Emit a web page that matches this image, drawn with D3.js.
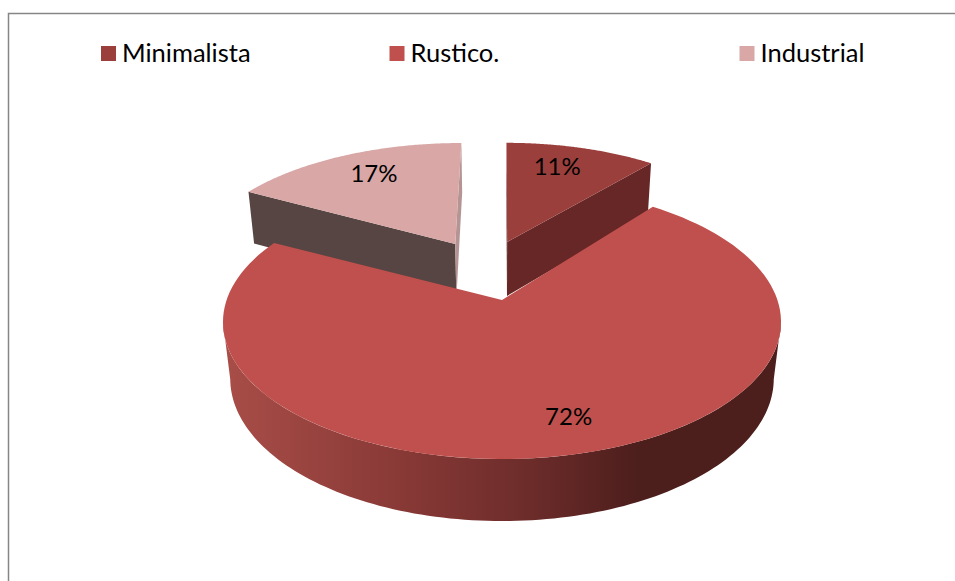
<!DOCTYPE html>
<html>
<head>
<meta charset="utf-8">
<style>
	body { margin: 0; background: #fff; }
	text { font-family: Lato, "Open Sans", sans-serif; font-size: 24px; fill: #000; }
	.legend-label { font-size: 25.5px; }
</style>
<script src="https://cdnjs.cloudflare.com/ajax/libs/d3/7.8.5/d3.min.js"></script>
</head>
<body>
<svg id="chart" width="955" height="581"></svg>
<script>
// Data
const categories = ["Minimalista", "Rustico.", "Industrial"];
const shares = [11, 72, 17];
const topColors = ["#9b3f3c", "#c0504d", "#d8a7a6"];

const svg = d3.select("#chart");

// Frame, only the top and left lines are inside the crop
svg.append("path")
	.attr("d", "M8.5,581V13.5H955")
	.attr("fill", "none")
	.attr("stroke", "#868686")
	.attr("stroke-width", 1.5);

// Perspective of the pie plane: u,v on the unit disc, z = 0 top face, z = 1 bottom face
const cam = { cx: 502, fx: 275.4, cy: 300, fy: 85.3, tilt: -0.1606, depthW: 0.026, depthY: 65.6 };

function project(u, v, z) {
	const w = 1 + cam.tilt * v + cam.depthW * z;
	return [cam.cx + cam.fx * u / w, (cam.cy + cam.fy * v + cam.depthY * z) / w];
}

// Pull-out of each slice on the plane, and how its flat cut faces are shaded
const sliceStyle = {
	"Minimalista": { off: [0.02, -0.467], r: 0.985, turn: 0, startFace: "#4f1f1e", endFace: "#662726", labelShift: [-9, -1] },
	"Rustico.": { off: [0, 0], r: 1, turn: -1.5, startFace: null, endFace: null, labelShift: [16, 4] },
	"Industrial": { off: [-0.182, -0.45], r: 1, turn: 0, startFace: "#564543", endFace: "#b59594", labelShift: [5, -1] }
};

const color = d3.scaleOrdinal().domain(categories).range(topColors);

const pie = d3.pie().sort(null).value((d, i) => shares[i]);
const slices = pie(categories).map(d => {
	const style = sliceStyle[d.data];
	const turn = style.turn * Math.PI / 180;
	return {
		name: d.data,
		share: shares[categories.indexOf(d.data)],
		a0: d.startAngle + turn,
		a1: d.endAngle + turn,
		style: style
	};
});

const line = d3.line();

function rimPoint(s, a, z) {
	return project(s.style.r * Math.sin(a) + s.style.off[0], -s.style.r * Math.cos(a) + s.style.off[1], z);
}

function apex(s, z) {
	return project(s.style.off[0], s.style.off[1], z);
}

function rim(s, z, from, to) {
	const n = 120;
	return d3.range(n + 1).map(i => rimPoint(s, from + (to - from) * i / n, z));
}

// Wall shading of the big slice
const defs = svg.append("defs");
const wall = defs.append("linearGradient")
	.attr("id", "wall")
	.attr("gradientUnits", "userSpaceOnUse")
	.attr("x1", project(-1, 0, 0)[0]).attr("y1", 0)
	.attr("x2", project(1, 0, 0)[0]).attr("y2", 0);
wall.selectAll("stop")
	.data([[0, "#a84d48"], [0.3, "#8a3a37"], [0.55, "#6c2c2a"], [0.75, "#4c1e1c"], [1, "#4c1e1c"]])
	.enter().append("stop")
	.attr("offset", d => d[0])
	.attr("stop-color", d => d[1]);

// The widest point of the disc on screen, the wall is only seen between these two angles
const sideAngle = Math.acos(cam.tilt);

// The pulled out slices go first, the big one covers their feet
const order = slices.slice().sort((a, b) => a.share - b.share);
const plot = svg.append("g");

order.forEach(s => {
	const g = plot.append("g").attr("class", "slice");

	if (s.style.startFace) {
		g.append("path")
			.attr("d", line([apex(s, 0), rimPoint(s, s.a0, 0), rimPoint(s, s.a0, 1), apex(s, 1)]) + "Z")
			.attr("fill", s.style.startFace);
		g.append("path")
			.attr("d", line([apex(s, 0), rimPoint(s, s.a1, 0), rimPoint(s, s.a1, 1), apex(s, 1)]) + "Z")
			.attr("fill", s.style.endFace);
	} else {
		const front = rim(s, 0, sideAngle, 2 * Math.PI - sideAngle);
		const back = rim(s, 1, sideAngle, 2 * Math.PI - sideAngle).reverse();
		g.append("path")
			.attr("d", line(front.concat(back)) + "Z")
			.attr("fill", "url(#wall)");
	}

	g.append("path")
		.attr("d", line([apex(s, 0)].concat(rim(s, 0, s.a0, s.a1))) + "Z")
		.attr("fill", color(s.name));
});

// Percent labels
svg.append("g").selectAll("text")
	.data(slices)
	.enter().append("text")
	.attr("text-anchor", "middle")
	.attr("dy", "0.35em")
	.attr("x", d => labelPos(d)[0] + d.style.labelShift[0])
	.attr("y", d => labelPos(d)[1] + d.style.labelShift[1])
	.text(d => d.share + "%");

function labelPos(s) {
	const mid = (s.a0 + s.a1) / 2;
	return project(0.76 * Math.sin(mid) + s.style.off[0], -0.76 * Math.cos(mid) + s.style.off[1], 0);
}

// Legend, spaced unevenly like the original
const legendX = d3.scaleOrdinal().domain(categories).range([101, 389.5, 739.5]);

const legend = svg.append("g").selectAll("g")
	.data(categories)
	.enter().append("g")
	.attr("transform", d => `translate(${legendX(d)},46)`);

legend.append("rect")
	.attr("width", 15)
	.attr("height", 15)
	.attr("fill", d => color(d));

legend.append("text")
	.attr("class", "legend-label")
	.attr("x", 21)
	.attr("y", 15.5)
	.text(d => d);
</script>
</body>
</html>
